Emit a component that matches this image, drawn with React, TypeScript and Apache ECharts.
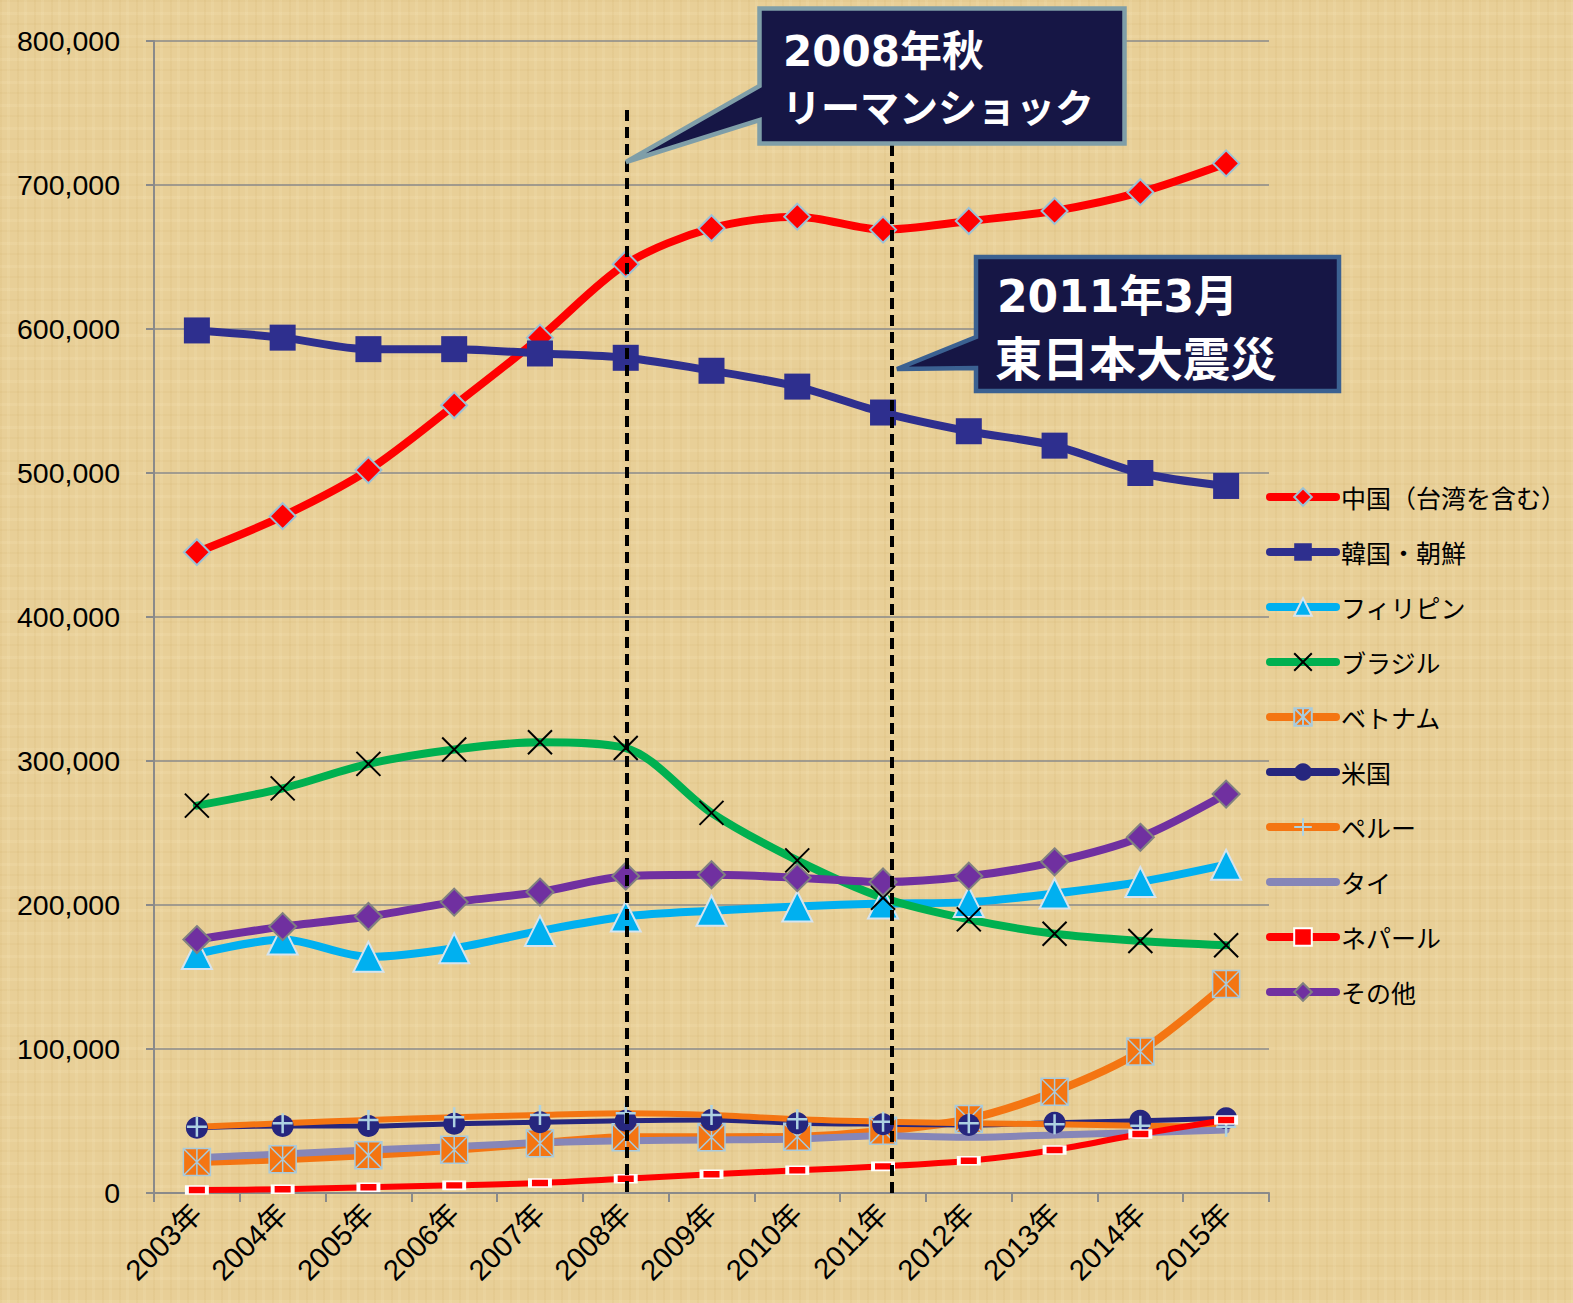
import React, { useEffect, useRef } from "react";
import * as echarts from "echarts";

const years = ["2003年", "2004年", "2005年", "2006年", "2007年", "2008年", "2009年", "2010年", "2011年", "2012年", "2013年", "2014年", "2015年"];

const china = [445000, 470000, 502000, 547000, 594000, 645000, 670000, 678000, 669000, 675000, 682000, 695000, 715000];
const korea = [599000, 594000, 586000, 586000, 583000, 580000, 571000, 560000, 542000, 529000, 519000, 500000, 491000];
const philippines = [166000, 176000, 164000, 170000, 182000, 192000, 196000, 199000, 201000, 202000, 208000, 216000, 228000];
const brazil = [269000, 281000, 298000, 308000, 313000, 309000, 264000, 231000, 205000, 190000, 180000, 175000, 172000];
const vietnam = [21500, 23500, 26300, 30000, 34600, 38700, 38700, 39100, 43300, 51400, 70300, 98300, 145100];
const usa = [45300, 46500, 46500, 48100, 49100, 50200, 50700, 48400, 47700, 47200, 48800, 50200, 51900];
const peru = [46000, 48400, 50700, 52600, 54200, 55300, 54200, 51200, 49500, 48400, 47700, 46700, 46000];
const thailand = [24500, 27100, 29900, 32200, 35000, 36300, 36800, 37500, 39800, 38700, 40300, 41900, 43800];
const nepal = [2100, 2600, 4000, 5300, 6900, 9900, 13000, 15800, 18500, 22400, 29900, 41000, 50700];
const others = [176000, 185000, 192000, 202000, 209000, 220000, 221000, 219000, 216000, 220000, 230000, 247000, 277000];

const seriesNames = ["中国（台湾を含む）", "韓国・朝鮮", "フィリピン", "ブラジル", "ベトナム", "米国", "ペルー", "タイ", "ネパール", "その他"];

const yMin = 0;
const yMax = 800000;
const yStep = 100000;

const callout1Lines = ["2008年秋", "リーマンショック"];
const callout2Lines = ["2011年3月", "東日本大震災"];

const AX = "#8a8a8a";
const CJK = "'Noto Sans CJK JP', 'Noto Sans CJK SC', sans-serif";
const MIX = "'DejaVu Sans', 'Noto Sans CJK JP', sans-serif";

function mk(name: string, data: number[], color: string, width: number, symbol: string, symbolSize: any, itemStyle: any) {
  return {
    name,
    type: "line",
    data,
    smooth: 0.3,
    symbol,
    symbolSize,
    showSymbol: symbol !== "none",
    lineStyle: { color, width, cap: "round", join: "round" },
    itemStyle,
    emphasis: { disabled: true },
  };
}

export default function App() {
  const ref = useRef<HTMLDivElement>(null);
  useEffect(() => {
    if (!ref.current) return;
    const chart = echarts.init(ref.current, undefined, { renderer: "svg" });
    const xSym = "path://M0,0L10,10M10,0L0,10";
    const plusSym = "path://M5,0L5,10M0,5L10,5";
    const vnSym = "path://M0,0L10,0L10,10L0,10Z M0,0L10,10 M10,0L0,10 M5,0L5,10";

    const cL = 759.5, cR = 1124.5, cT = 8.5, cB = 143.5;
    const dL = 976, dR = 1339, dT = 257, dB = 391;

    chart.setOption({
      animation: false,
      backgroundColor: "transparent",
      grid: { left: 154, right: 304, top: 41, bottom: 110, containLabel: false },
      xAxis: {
        type: "category",
        data: years,
        boundaryGap: true,
        axisLine: { show: true, lineStyle: { color: AX, width: 2 } },
        axisTick: { show: true, interval: 0, length: 9, lineStyle: { color: AX, width: 2 } },
        axisLabel: {
          interval: 0,
          rotate: 45,
          margin: 16,
          fontSize: 29,
          color: "#000",
          fontFamily: "'Liberation Sans', 'Noto Sans CJK JP', sans-serif",
        },
        splitLine: { show: false },
      },
      yAxis: {
        type: "value",
        min: yMin,
        max: yMax,
        interval: yStep,
        axisLine: { show: true, lineStyle: { color: AX, width: 2 } },
        axisTick: { show: true, length: 8, lineStyle: { color: AX, width: 2 } },
        axisLabel: {
          margin: 34,
          fontSize: 28.5,
          color: "#000",
          fontFamily: "'Liberation Sans', sans-serif",
          formatter: (v: number) => v.toLocaleString("en-US"),
        },
        splitLine: { show: true, lineStyle: { color: AX, width: 1.5 } },
      },
      legend: {
        orient: "vertical",
        left: 1266,
        top: 484,
        itemWidth: 66,
        itemHeight: 22,
        itemGap: 29,
        padding: 0,
        data: seriesNames,
        lineStyle: { width: 8, cap: "round" },
        textStyle: { fontSize: 25, lineHeight: 26, color: "#000", fontFamily: CJK },
        selectedMode: false,
      },
      series: [
        mk(seriesNames[0], china, "#ff0000", 8, "diamond", 26, { color: "#ff0000", borderColor: "#9cc2d6", borderWidth: 2 }),
        mk(seriesNames[1], korea, "#2e2f8e", 8, "rect", 26, { color: "#2e2f8e" }),
        mk(seriesNames[2], philippines, "#00b0f0", 8, "triangle", 30, { color: "#00b0f0", borderColor: "#d6e4ee", borderWidth: 2 }),
        mk(seriesNames[3], brazil, "#00b050", 8, xSym, 24, { color: "transparent", borderColor: "#000", borderWidth: 2 }),
        mk(seriesNames[4], vietnam, "#f47512", 8, vnSym, 27, { color: "#f47512", borderColor: "#a9cbdc", borderWidth: 1.5 }),
        mk(seriesNames[5], usa, "#26267e", 5, "circle", 22, { color: "#26267e" }),
        mk(seriesNames[6], peru, "#f47512", 6, plusSym, 20, { color: "transparent", borderColor: "#aed2e2", borderWidth: 2.5 }),
        mk(seriesNames[7], thailand, "#8686b8", 7, "none", 0, { color: "rgba(0,0,0,0)", borderWidth: 0 }),
        mk(seriesNames[8], nepal, "#ff0000", 6, "rect", [20, 8], { color: "#ff0000", borderColor: "#ffffff", borderWidth: 2.5 }),
        mk(seriesNames[9], others, "#7030a0", 8, "diamond", 27, { color: "#7030a0", borderColor: "#808080", borderWidth: 2 }),
      ],
      graphic: [
        {
          type: "line",
          z: 100,
          shape: { x1: 627, y1: 110, x2: 627, y2: 1197 },
          style: { stroke: "#000", lineWidth: 4, lineDash: [11, 6] },
        },
        {
          type: "line",
          z: 100,
          shape: { x1: 892, y1: 94, x2: 892, y2: 1197 },
          style: { stroke: "#000", lineWidth: 4, lineDash: [11, 6] },
        },
        {
          type: "polygon",
          z: 101,
          shape: {
            points: [[cL, cT], [cR, cT], [cR, cB], [cL, cB], [cL, 120], [626, 162], [cL, 86]],
          },
          style: { fill: "#161645", stroke: "#7f9ea8", lineWidth: 4.5, lineJoin: "miter" },
        },
        {
          type: "text",
          z: 102,
          x: 783,
          y: 51,
          style: {
            text: callout1Lines[0],
            fill: "#fff",
            fontSize: 42,
            fontWeight: "bold",
            fontFamily: MIX,
            verticalAlign: "middle",
            align: "left",
          },
        },
        {
          type: "text",
          z: 102,
          x: 782,
          y: 105,
          style: {
            text: callout1Lines[1],
            fill: "#fff",
            fontSize: 39,
            fontWeight: "bold",
            fontFamily: CJK,
            verticalAlign: "middle",
            align: "left",
          },
        },
        {
          type: "polygon",
          z: 101,
          shape: {
            points: [[dL, dT], [dR, dT], [dR, dB], [dL, dB], [dL, 368], [897, 369], [dL, 337]],
          },
          style: { fill: "#161645", stroke: "#3b6191", lineWidth: 4.5, lineJoin: "miter" },
        },
        {
          type: "text",
          z: 102,
          x: 997,
          y: 296,
          style: {
            text: callout2Lines[0],
            fill: "#fff",
            fontSize: 44,
            fontWeight: "bold",
            fontFamily: MIX,
            verticalAlign: "middle",
            align: "left",
          },
        },
        {
          type: "text",
          z: 102,
          x: 995,
          y: 355,
          style: {
            text: callout2Lines[1],
            fill: "#fff",
            fontSize: 47,
            fontWeight: "bold",
            fontFamily: CJK,
            verticalAlign: "middle",
            align: "left",
          },
        },
      ],
    });
    return () => chart.dispose();
  }, []);

  const bg =
    "repeating-linear-gradient(90deg, rgba(190,150,70,0.08) 0px, rgba(190,150,70,0.08) 2px, rgba(0,0,0,0) 2px, rgba(0,0,0,0) 7px, rgba(255,245,210,0.10) 7px, rgba(255,245,210,0.10) 10px, rgba(0,0,0,0) 10px, rgba(0,0,0,0) 17px)," +
    "repeating-linear-gradient(0deg, rgba(255,240,200,0.13) 0px, rgba(255,240,200,0.13) 3px, rgba(0,0,0,0) 3px, rgba(0,0,0,0) 13px, rgba(180,140,60,0.06) 13px, rgba(180,140,60,0.06) 15px, rgba(0,0,0,0) 15px, rgba(0,0,0,0) 23px)," +
    "#e8cf97";

  return (
    <div style={{ position: "fixed", left: 0, top: 0, width: 1573, height: 1303, background: bg }}>
      <div ref={ref} style={{ width: 1573, height: 1303 }} />
    </div>
  );
}
